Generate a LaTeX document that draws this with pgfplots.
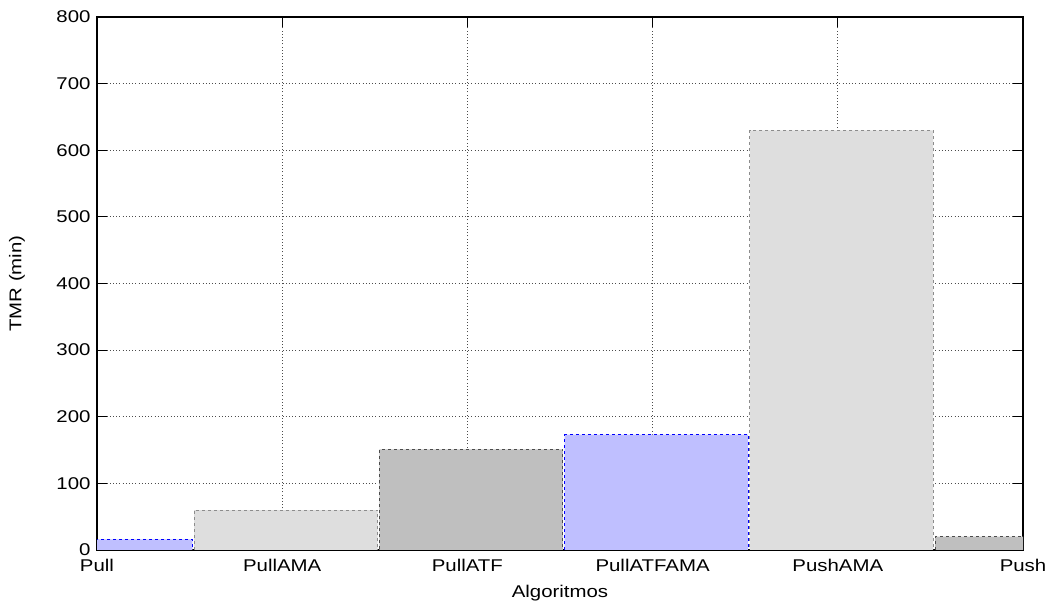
\documentclass[border=0pt]{standalone}
\usepackage{fontspec}
\setmainfont[FakeStretch=1.2]{Liberation Sans}
\usepackage{pgfplots}
\pgfplotsset{compat=1.18}
\definecolor{bblue}{RGB}{191,191,255}
\definecolor{lgray}{RGB}{222,222,222}
\definecolor{mgray}{RGB}{191,191,191}
\begin{document}
\begin{tikzpicture}
\useasboundingbox (0,0) rectangle (1050pt,601pt);
\begin{axis}[
  at={(97pt,51pt)}, anchor=south west,
  scale only axis, width=926pt, height=533pt,
  xmin=0, xmax=5, ymin=0, ymax=800,
  xtick={0,1,2,3,4,5},
  xticklabels={Pull,PullAMA,PullATF,PullATFAMA,PushAMA,Push},
  ytick={0,100,...,800},
  tick align=inside, major tick length=10pt,
  tick style={black, line width=1pt},
  grid=major,
  grid style={black!70, line width=0.9pt, dash pattern=on 1pt off 2.2pt},
  axis line style={line width=1.3pt},
  font=\fontsize{17}{20}\selectfont,
  /pgf/number format/assume math mode=true,
  yticklabel style={xshift=-3pt},
  xticklabel style={yshift=-6pt},
  xlabel={Algoritmos}, ylabel={TMR (min)},
  xlabel style={at={(axis description cs:0.5,-0.0807)}, anchor=center},
  ylabel style={at={(axis description cs:-0.0864,0.5)}, anchor=center, rotate=0},
]
\addplot[ybar, bar width=0.99, bar shift=0.02, fill=bblue, draw=blue, line width=0.9pt, dash pattern=on 3pt off 3pt] coordinates {(0,16) (3,173)};
\addplot[ybar, bar width=0.99, bar shift=0.02, fill=lgray, draw=black!45, line width=0.9pt, dash pattern=on 3pt off 3pt] coordinates {(1,60) (4,630)};
\addplot[ybar, bar width=0.99, bar shift=0.02, fill=mgray, draw=black!70, line width=0.9pt, dash pattern=on 3pt off 3pt] coordinates {(2,151) (5,20)};
\end{axis}
\end{tikzpicture}
\end{document}
